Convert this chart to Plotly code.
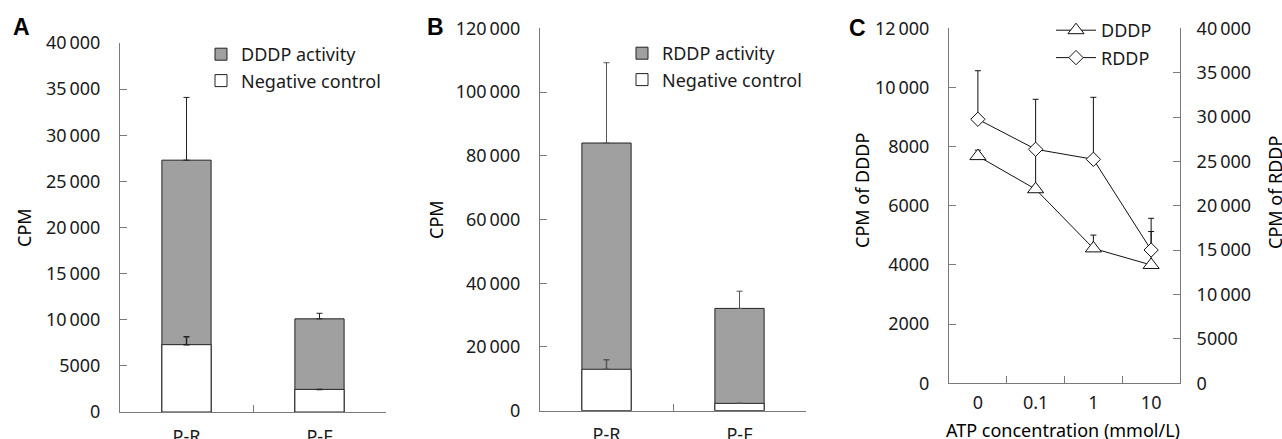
import plotly.graph_objects as go

W, H = 1282, 439

# ---------------- data ----------------
groups = ["P-R", "P-F"]
dddp_total = [27300, 10100]
dddp_total_err = [6800, 600]
dddp_neg = [7300, 2450]
dddp_neg_err = [850, None]

rddp_total = [84000, 32100]
rddp_total_err = [25200, 5400]
rddp_neg = [13000, 2300]
rddp_neg_err = [3000, None]

atp = ["0", "0.1", "1", "10"]
dddp_atp = [7680, 6560, 4560, 4000]
dddp_atp_err = [200, 1350, 450, 1130]
rddp_atp = [29750, 26370, 25240, 15020]
rddp_atp_err = [5470, 5630, 6985, 3570]

ticks_a = [0, 5000, 10000, 15000, 20000, 25000, 30000, 35000, 40000]
ticks_b = [0, 20000, 40000, 60000, 80000, 100000, 120000]
ticks_cl = [0, 2000, 4000, 6000, 8000, 10000, 12000]
ticks_cr = [0, 5000, 10000, 15000, 20000, 25000, 30000, 35000, 40000]


def lab(v):
    s = str(v)
    if len(s) >= 5:
        return s[:-3] + "\u2009" + s[-3:]
    return s


def px(x):
    return x / W


def py(y):
    return 1 - y / H


FONT = "Noto Sans"
TXT = "#1a1a1a"
AXC = "#7a7a7a"
GRAY = "#a0a0a0"
OUT = "#222222"
FS = 18

fig = go.Figure()

# Panel A
fig.add_trace(go.Bar(x=groups, y=dddp_total, name="DDDP activity", width=0.37,
                     marker=dict(color=GRAY, line=dict(color=OUT, width=1)),
                     error_y=dict(type="data", symmetric=False, array=dddp_total_err,
                                  arrayminus=[0, 0], color=OUT, thickness=1, width=3),
                     xaxis="x", yaxis="y", legend="legend", legendgroup="a1"))
fig.add_trace(go.Bar(x=groups, y=dddp_neg, name="Negative control", width=0.37,
                     marker=dict(color="white", line=dict(color=OUT, width=1)),
                     error_y=dict(type="data", symmetric=False, array=dddp_neg_err,
                                  arrayminus=[0, None], color=OUT, thickness=1.5, width=3),
                     xaxis="x", yaxis="y", legend="legend", legendgroup="a2"))
# Panel B
fig.add_trace(go.Bar(x=groups, y=rddp_total, name="RDDP activity", width=0.37,
                     marker=dict(color=GRAY, line=dict(color=OUT, width=1)),
                     error_y=dict(type="data", symmetric=False, array=rddp_total_err,
                                  arrayminus=[0, 0], color="#555555", thickness=1, width=3),
                     xaxis="x2", yaxis="y2", legend="legend2", legendgroup="b1"))
fig.add_trace(go.Bar(x=groups, y=rddp_neg, name="Negative control", width=0.37,
                     marker=dict(color="white", line=dict(color=OUT, width=1)),
                     error_y=dict(type="data", symmetric=False, array=rddp_neg_err,
                                  arrayminus=[0, None], color="#555555", thickness=1.5, width=3),
                     xaxis="x2", yaxis="y2", legend="legend2", legendgroup="b2"))
# Panel C
fig.add_trace(go.Scatter(x=atp, y=dddp_atp, name="DDDP", mode="lines+markers",
                         line=dict(color="#111111", width=1),
                         marker=dict(symbol="triangle-up", size=14, color="white",
                                     line=dict(color="#111111", width=1)),
                         error_y=dict(type="data", symmetric=False, array=dddp_atp_err,
                                      arrayminus=[0, 0, 0, 0], color="#111111", thickness=1, width=3),
                         xaxis="x3", yaxis="y3", legend="legend3", legendgroup="c1"))
fig.add_trace(go.Scatter(x=atp, y=rddp_atp, name="RDDP", mode="lines+markers",
                         line=dict(color="#111111", width=1),
                         marker=dict(symbol="diamond", size=11, color="white",
                                     line=dict(color="#111111", width=1)),
                         error_y=dict(type="data", symmetric=False, array=rddp_atp_err,
                                      arrayminus=[0, 0, 0, 0], color="#111111", thickness=1, width=3),
                         xaxis="x3", yaxis="y4", legend="legend3", legendgroup="c2"))


def yax(domain, rng, ticks, anchor, **kw):
    d = dict(domain=domain, range=rng, tickmode="array", tickvals=ticks,
             ticktext=[lab(t) for t in ticks], ticks="inside", ticklen=7,
             tickcolor=AXC, showline=True, linecolor=AXC, linewidth=1,
             showgrid=False, zeroline=False, anchor=anchor, ticklabelstandoff=15,
             automargin=False,
             tickfont=dict(family=FONT, size=FS, color=TXT), fixedrange=True)
    d.update(kw)
    return d


def xax(domain, rng, anchor, standoff):
    return dict(domain=domain, range=rng, type="category", tickson="boundaries",
                ticks="inside", ticklen=7, tickcolor=AXC, showline=True,
                linecolor=AXC, linewidth=1, showgrid=False, zeroline=False,
                anchor=anchor, ticklabelstandoff=standoff, automargin=False,
                tickfont=dict(family=FONT, size=FS, color=TXT), fixedrange=True)


def leg(x, y, gap=0, itemwidth=30):
    return dict(x=px(x), y=py(y), xanchor="left", yanchor="top",
                bgcolor="rgba(0,0,0,0)", borderwidth=0, tracegroupgap=gap,
                itemwidth=itemwidth,
                font=dict(family=FONT, size=FS, color=TXT))


annotations = []


def ann(text, x, y, angle=0, size=FS, bold=False, family=FONT):
    annotations.append(dict(text=("<b>%s</b>" % text) if bold else text,
                            x=px(x), y=py(y), xref="paper", yref="paper",
                            showarrow=False, textangle=angle, xanchor="center",
                            yanchor="middle",
                            font=dict(family=family, size=size, color="#000000")))


ann("A", 21, 27, size=23, bold=True, family="Liberation Sans")
ann("B", 435, 27, size=23, bold=True, family="Liberation Sans")
ann("C", 857, 28, size=23, bold=True, family="Liberation Sans")
ann("CPM", 24, 228, angle=-90)
ann("CPM", 436, 220, angle=-90)
ann("CPM of DDDP", 862, 190, angle=-90)
ann("CPM of RDDP", 1275, 193, angle=-90)
ann("ATP concentration (mmol/L)", 1063, 430)

fig.update_layout(
    template="none",
    width=W, height=H, margin=dict(l=0, r=0, t=0, b=0, autoexpand=False),
    paper_bgcolor="white", plot_bgcolor="rgba(0,0,0,0)",
    barmode="overlay", showlegend=True,
    font=dict(family=FONT, size=FS, color=TXT),
    xaxis=xax([px(120), px(386)], [-0.5, 1.5], "y", 8),
    yaxis=yax([py(412), py(43)], [0, 40000], ticks_a, "x"),
    xaxis2=xax([px(540), px(806)], [-0.5, 1.5], "y2", 8),
    yaxis2=yax([py(410.7), py(28.3)], [0, 120000], ticks_b, "x2"),
    xaxis3=xax([px(949), px(1180)], [-0.5, 3.5], "y3", 3),
    yaxis3=yax([py(383.3), py(28.3)], [0, 12000], ticks_cl, "x3"),
    yaxis4=yax([py(383.3), py(28.3)], [0, 40000], ticks_cr, "x3",
               overlaying="y3", side="right", ticklabelstandoff=12),
    legend=leg(201, 36),
    legend2=leg(622, 35),
    legend3=leg(1051, 12, gap=1, itemwidth=40),
    annotations=annotations,
)

fig.write_html("out.html", config={"displayModeBar": False},
               post_script="document.body.style.margin='0px';")
